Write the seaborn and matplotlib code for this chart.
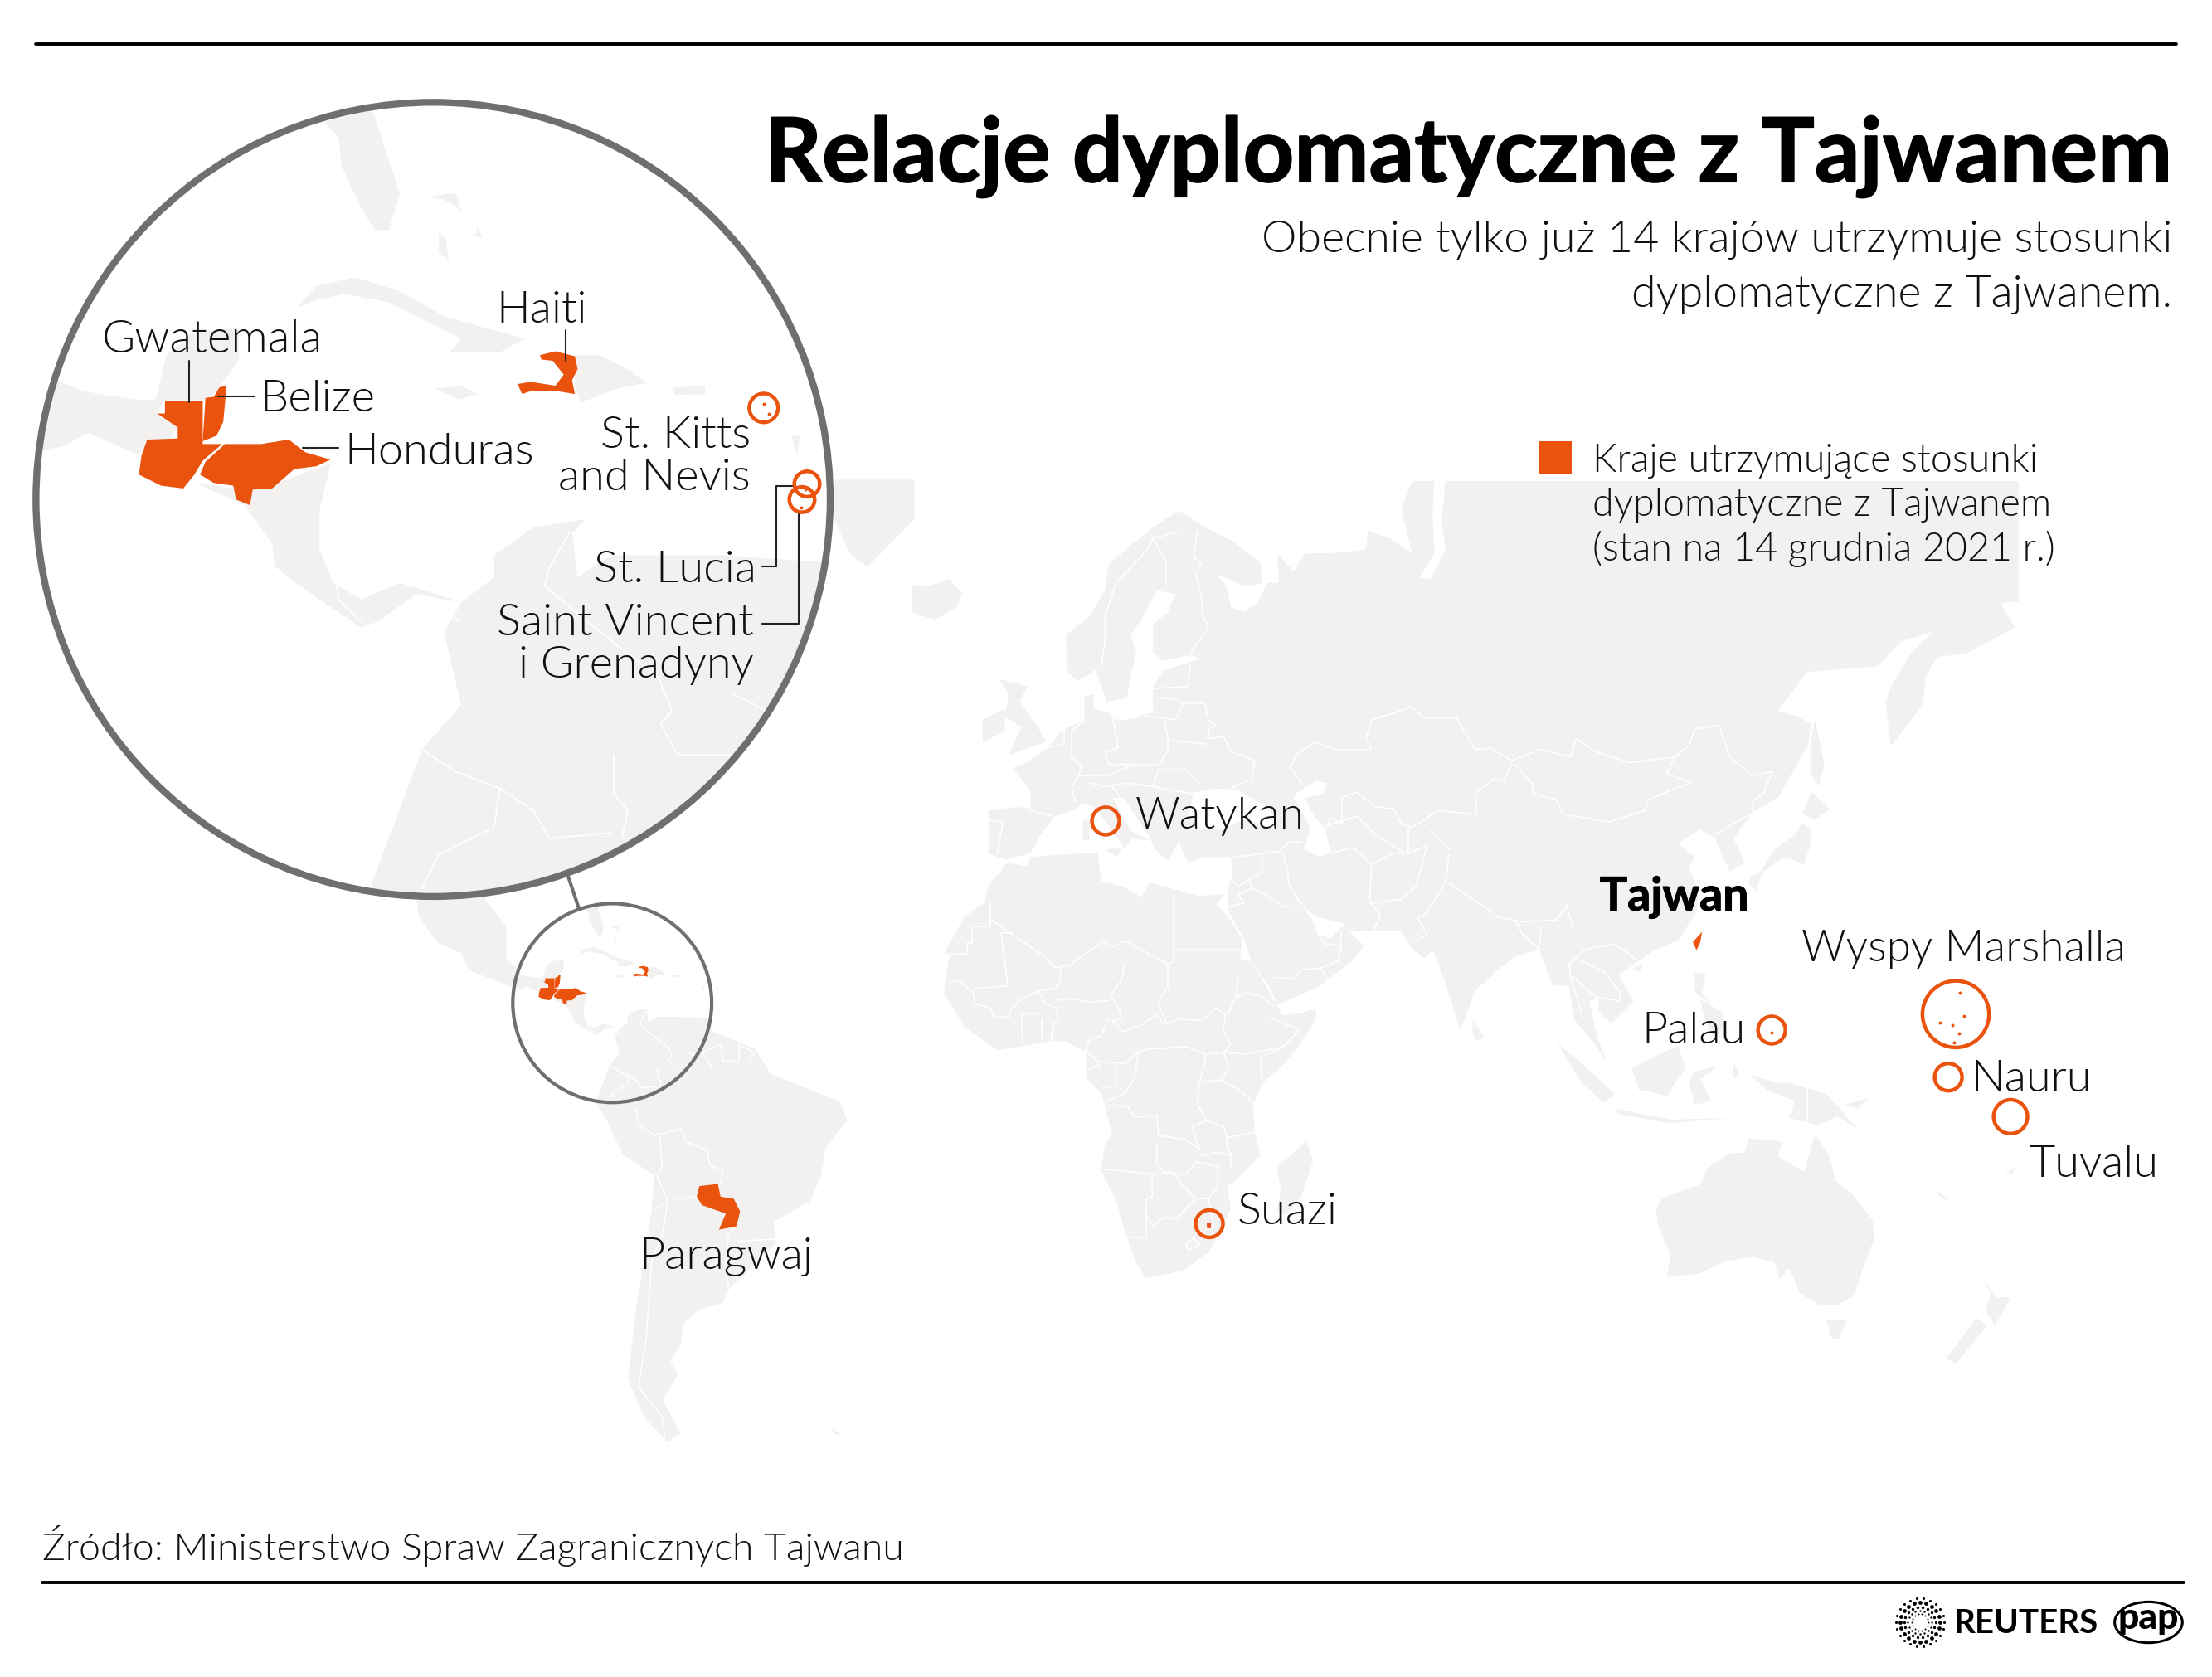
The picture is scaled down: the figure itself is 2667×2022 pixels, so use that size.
import numpy as np
import pandas as pd
import matplotlib
matplotlib.use('Agg')
import matplotlib.pyplot as plt
import matplotlib.patheffects as pe
from matplotlib.patches import Circle, Ellipse, Rectangle
import seaborn as sns

LAND = '#f2f1f0'
ORANGE = '#e9530e'
RING = '#6f6e70'
INK = '#111111'
S = 2667 / 1568

def crop(x0, y0, sx, sy=None):
    sy = sy or sx
    return lambda p: [((x0 + x / sx) / S, (y0 + y / sy) / S) for x, y in p]
z1 = crop(0, 80, 1.4933)
z3 = crop(400, 1050, 1.568, 1.96)
za = crop(1100, 560, 2.24)
zb = crop(1800, 560, 2.24)
zc = crop(1800, 1100, 2.24)
zd = crop(1100, 1050, 2.24)

eurasia = (za([(250,1068),(205,1050),(208,950),(205,935),(280,925),(320,930),(320,880),(270,820),(300,810),(360,770),(410,715),(465,690),(465,625),(490,620),(490,660),(535,670),(525,640),(495,555),(445,585),(420,560),(415,460),(480,410),(520,340),(530,270),(600,210),(650,170),(720,125),(800,175),(860,205),(940,265),(945,320),(900,330),(820,295),(850,330),(860,385),(895,400),(930,375),(960,320),(990,320),(985,240),(1030,290),(1060,240),(1130,240),(1225,230),(1230,180),(1290,200),(1350,240),(1320,120),(1350,45)])
    + zb([(1420,45),(1420,370),(1370,375),(1410,440),(1280,510),(1200,520),(1170,570),(1160,650),(1075,760),(1060,640),(1080,590),(1130,510),(1190,450),(1100,480),(1040,545),(850,560),(770,665),(820,680),(860,700),(850,760),(770,900),(700,940),(650,1010),(680,1075),(640,1100),(600,1010),(560,985),(500,1025),(545,1060),(530,1090),(555,1150),(550,1210)])
    + zc([(500,75),(440,100),(395,130),(340,170),(380,240),(320,300),(285,270),(285,230),(260,240),(280,330),(305,400),(270,350),(220,290),(205,200),(160,195),(125,100),(60,120),(0,165)])
    + za([(1568,1380),(1520,1420),(1480,1530),(1440,1400),(1405,1310),(1385,1335),(1350,1310),(1320,1260),(1180,1260),(1165,1240),(1090,1220),(1050,1190),(1080,1230),(1095,1270),(1130,1280),(1165,1245),(1220,1300),(1190,1340),(1150,1370),(1100,1410),(985,1460),(970,1420),(915,1340),(900,1290),(855,1210),(850,1150),(865,1100),(860,1060),(790,1060),(745,1075),(720,1020),(690,1070),(655,1040),(640,1005),(610,960),(570,900),(540,900),(590,990),(640,1015),(590,1010),(575,1040),(530,975),(490,925),(465,915),(430,935),(385,950),(340,1010),(320,1050)]))
africa = (za([(255,1075),(310,1085),(320,1060),(460,1050),(500,1050),(510,1125),(570,1140),(620,1170),(640,1130),(700,1145),(770,1165),(845,1160),(820,1190),(848,1215),(890,1280)])
    + zd([(885,240),(915,245),(960,320),(985,365),(1000,390),(1045,385),(1090,372),(1090,400),(1040,480),(1000,525),(950,570),(920,630),(925,700),(940,770),(890,820),(850,855),(860,910),(840,960),(800,1030),(730,1080),(630,1100),(605,1060),(580,990),(550,890),(510,810),(520,740),(540,710),(510,600),(470,560),(470,490),(415,460),(370,460),(230,485),(140,420),(85,330),(100,230),(85,225),(110,180),(140,125),(195,85),(205,40),(240,0)]))
south_america = z3([(500,550),(500,490),(535,400),(520,360),(590,300),(680,330),(720,380),(800,420),(830,480),(960,545),(975,590),(935,650),(925,720),(905,780),(835,830),(840,880),(750,990),(740,1020),(690,1040),(665,1070),(660,1120),(640,1160),(655,1190),(625,1250),(660,1330),(635,1350),(590,1290),(560,1200),(575,1040),(605,800),(610,720),(550,670),(520,590)])
mexico = z3([(150,-40),(290,-40),(290,70),(330,130),(330,210),(360,240),(350,280),(260,235),(245,195),(200,170),(165,110)])
greenland = [(592,340),(648,340),(648,368),(615,402),(602,392),(590,365)]
islands = [
    zd([(985,800),(1065,730),(1082,785),(1050,880),(1010,930),(985,920),(995,860)]),
    zd([(1515,405),(1545,450),(1520,460),(1512,430)]),
    za([(190,690),(250,660),(250,720),(190,750)]),
    za([(235,580),(310,600),(290,640),(340,710),(360,750),(260,785),(295,710),(250,680),(260,620)]),
    za([(0,325),(40,330),(100,310),(135,350),(120,385),(60,420),(0,400)]),
    za([(460,960),(480,960),(478,1015),(460,1015)]),
    za([(520,1040),(565,1035),(555,1060)]),
    zb([(860,885),(910,930),(870,960),(835,945)]),
    zb([(835,970),(860,985),(860,1020),(840,1080),(790,1060),(720,1105),(760,1040),(815,1000)]),
    zb([(700,1110),(730,1100),(710,1150),(690,1130)]),
    zb([(870,690),(895,810),(880,870),(860,840),(860,740)]),
    zc([(175,355),(230,400),(330,490),(300,515),(240,460)]),
    zc([(330,530),(480,560),(640,555),(480,570),(340,545)]),
    zc([(375,420),(500,360),(520,420),(470,495),(395,480)]),
    zc([(545,430),(610,415),(560,450),(590,510),(545,520),(530,460)]),
    zc([(545,165),(575,165),(565,220),(590,250),(545,215)]),
    zc([(560,235),(620,270),(625,310),(600,340),(575,300)]),
    zc([(375,155),(405,135),(400,160)]),
    zc([(695,440),(770,460),(800,460),(900,490),(990,590),(930,550),(880,575),(800,555),(815,510),(740,480)]),
    zc([(950,520),(1020,500),(985,530)]),
    zc([(650,405),(665,440),(650,450)]),
    zc([(1190,745),(1230,775),(1215,775)]),
    zc([(1385,705),(1415,685),(1400,710)]),
    zc([(440,800),(460,770),(560,735),(580,690),(640,650),(680,650),(690,610),(780,620),(770,660),(840,700),(870,600),(910,660),(925,725),(970,760),(1025,830),(1030,880),(1000,960),(975,1035),(930,1060),(880,1060),(830,1030),(800,960),(775,990),(760,945),(700,930),(620,945),(560,975),(470,985),(480,925),(460,880),(445,840)]),
    zc([(900,1100),(955,1100),(935,1155),(915,1150)]),
    zc([(1320,985),(1360,1040),(1400,1040),(1355,1115),(1330,1075),(1345,1030)]),
    zc([(1305,1095),(1335,1115),(1250,1220),(1225,1205)]),
    z3([(945,1318),(965,1335),(950,1330)]),
]
# seas cut out of the land
seas = [
    za([(660,340),(710,350),(690,400),(650,430),(650,510),(680,530),(750,515),(780,525),(680,555),(650,600),(650,670),(570,690),(540,685),(525,660),(530,640),(580,630),(590,570),(605,510),(590,460),(625,410)]),
    za([(760,885),(830,875),(880,880),(950,920),(985,960),(980,985),(900,960),(830,985),(780,985),(745,950)]),
    za([(1040,885),(1090,855),(1120,860),(1110,890),(1060,900),(1085,950),(1115,985),(1130,1050),(1100,1060),(1060,1040),(1075,980),(1030,900)]),
    za([(1110,45),(1160,45),(1175,140),(1130,135),(1100,90)]),
    za([(1410,45),(1440,45),(1430,150),(1440,230),(1400,310),(1370,305),(1410,240),(1405,130)]),
]

sa_borders = [z3(p) for p in [
    [(575,560),(580,600),(610,625),(660,610),(670,640),(710,660),(715,695),(740,710),(735,740)],
    [(620,630),(625,700),(615,720),(635,780),(610,800)],
    [(635,785),(625,860),(605,920),(600,1000),(595,1100),(580,1220),(625,1290),(630,1340)],
    [(650,775),(690,770)],[(770,830),(750,860),(745,930),(750,985)],[(840,870),(770,875)],
    [(720,465),(700,430),(735,410),(740,450),(770,450),(770,410),(800,430),(790,450)]]]
africa_borders = [zd(p) for p in [
    [(90,225),(148,225),(148,195),(162,195),(162,150),(210,150),(210,90)],
    [(210,130),(355,230),(385,262),(425,255),(515,190),(545,205),(575,190),(690,252),(706,245),(706,65)],
    [(240,168),(268,168)],[(240,168),(258,310),(165,318)],
    [(100,300),(130,298),(165,330),(170,360),(210,370),(220,395)],
    [(400,262),(400,300),(385,318),(340,325),(290,350),(265,375),(262,395),(225,395)],
    [(340,325),(360,360),(390,370),(395,400),(380,420),(380,455)],
    [(395,350),(430,345),(480,355),(530,350)],
    [(575,245),(565,295),(535,335),(560,375),(565,400),(540,405),(570,435)],
    [(470,475),(480,455),(510,445),(530,400)],
    [(465,480),(500,515),(575,520),(610,490),(640,480),(670,480),(740,475),(790,495),(840,490),(900,495),(1000,475),(1045,430),(965,395)],
    [(570,435),(620,415),(660,390),(680,415),(720,400),(780,405),(820,370),(845,390),(840,430),(860,470),(840,490)],
    [(690,252),(690,315),(665,350),(675,385),(690,415)],[(706,213),(885,213)],
    [(880,290),(875,340),(850,390)],[(875,340),(900,330),(945,340),(975,365)],
    [(790,495),(790,520),(775,570),(835,565),(890,597),(915,620)],[(835,565),(855,530),(840,490)],
    [(945,570),(940,505),(1000,475)],[(775,570),(770,630),(795,675),(840,690),(850,720),(935,705)],
    [(520,635),(580,635),(600,665),(660,660),(665,715),(735,725),(775,750)],[(795,675),(755,690),(775,750)],
    [(660,740),(660,790),(680,815),(735,820),(770,785),(825,800),(825,850),(800,885)],
    [(510,805),(610,815),(650,820),(705,815),(730,850),(765,885),(800,885)],
    [(648,820),(648,880),(632,885),(632,990),(590,990)],[(632,930),(650,960),(680,935),(715,940),(740,910),(765,885)],
    [(780,770),(825,760),(860,770),(860,805)],[(850,720),(850,750),(865,770)],
    [(610,490),(600,560),(575,600),(520,625)],[(480,535),(505,520),(505,535)],[(550,525),(550,580),(515,585)],
    [(740,1010),(760,990),(775,1010),(745,1025),(740,1010)],[(800,885),(815,960)],
    [(295,385),(295,430),(300,470)],[(295,385),(350,385)],[(350,400),(350,455)],[(380,410),(375,460)]]]
eurasia_borders = [za(p) for p in [
    [(650,200),(685,260),(685,320)],[(630,235),(550,320),(520,410),(520,480),(510,550)],[(650,200),(630,235)],
    [(720,180),(650,200)],[(770,180),(760,250),(780,270),(765,295),(780,350),(785,410),(800,440),(750,510)],
    [(750,540),(745,600),(650,605)],[(650,630),(720,635),(730,650),(710,690),(680,685)],
    [(730,645),(790,645),(800,690),(820,705),(800,715),(800,740),(840,735),(860,775),(925,800),(915,850),(850,880)],
    [(540,680),(550,730),(555,765),(520,780),(530,810),(600,810),(665,810),(690,775),(690,740),(680,685),(630,680),(550,690)],
    [(690,745),(790,755)],[(670,825),(740,825),(775,860)],[(665,825),(650,870)],
    [(465,690),(430,720),(430,790),(455,815),(450,840),(430,870),(440,910)],[(410,715),(410,755),(370,765)],
    [(450,840),(530,840),(585,815)],[(480,860),(520,870),(580,860),(650,870),(760,890)],[(540,870),(575,920),(620,985),(640,1005)],
    [(205,960),(245,965),(230,1050)],[(320,935),(380,950)],
    [(1020,820),(1040,780),(1090,750),(1140,770),(1240,770),(1225,740),(1240,690),(1350,655),(1380,685),(1470,685),(1520,770),(1568,765)],
    [(1020,820),(1060,870)],[(1160,900),(1200,885),(1250,925),(1300,930),(1320,970),(1350,980),(1420,935),(1525,945),(1520,890),(1568,850)],
    [(1160,900),(1160,970),(1130,955),(1115,985)],[(1130,1050),(1190,1035),(1240,1080),(1300,1050),(1340,1050),(1390,1030),(1360,1140),(1320,1175),(1240,1185)],
    [(1120,975),(1200,950),(1250,1000),(1330,1050)],[(1340,980),(1340,1050)],[(1400,990),(1450,1040)],
    [(1240,1085),(1235,1180),(1265,1220),(1245,1260)],[(1000,1050),(1015,1100),(1015,1130),(1045,1180),(1060,1190)],
    [(870,1060),(990,1045),(1020,1020),(1050,1020)],[(945,1060),(945,1100),(880,1140),(860,1120)],
    [(910,1120),(915,1145),(880,1160),(895,1185),(850,1195)],[(915,1145),(960,1165),(1000,1195),(1045,1195)],
    [(1095,1270),(1115,1295),(1155,1300),(1160,1260)],[(975,1385),(1030,1390),(1050,1365),(1105,1360),(1150,1340),(1160,1300)],
    [(1105,1360),(1120,1395)],[(1450,1050),(1440,1130),(1385,1215),(1365,1225),(1390,1270),(1350,1290)],
    [(1450,1130),(1500,1165),(1568,1210)]]]
asia_borders = [zb(p) for p in [
    [(0,770),(50,800),(130,770),(210,790),(225,740),(275,775),(370,805),(490,790),(470,835),(535,860),(480,880),(420,905),(410,935),(315,965),(190,945),(170,905),(110,890),(105,860),(60,810)],
    [(490,790),(530,760),(545,715),(610,705),(640,790),(700,840),(755,830),(730,890),(705,905),(700,935)],
    [(705,940),(640,975),(600,1000)],[(0,850),(30,855),(50,805)],[(0,1220),(80,1235),(170,1230),(200,1190),(215,1250)]]] + [zc(p) for p in [
    [(205,140),(250,100),(330,85),(390,130)],[(240,130),(300,160),(340,210),(345,240),(285,230)],
    [(280,230),(215,175)],[(205,140),(210,175),(240,270)],[(60,20),(80,60),(125,100),(130,40)],
    [(848,475),(848,570)]]]

# the enlarged Caribbean, in crop coordinates of the big circle
carib_land = [z1(p) for p in [
    [(585,100),(670,78),(720,230),(700,295),(675,295),(650,255),(615,180),(610,130)],
    [(535,435),(570,395),(640,380),(720,405),(800,450),(870,470),(945,490),(900,515),(810,515),(830,490),(780,465),(700,425),(620,410),(570,420)],
    [(785,580),(830,575),(860,590),(825,600)],
    [(1035,520),(1080,520),(1130,545),(1165,570),(1110,580),(1060,600),(1045,605),(1035,575)],
    [(1210,578),(1270,575),(1270,590),(1215,592)],
    [(790,300),(803,310),(808,350),(790,335)],[(770,235),(820,228),(830,260),(800,240)],
    [(1425,665),(1440,665),(1435,700)],[(860,290),(868,310),(855,305)],
    [(20,560),(100,565),(150,585),(240,600),(295,600),(283,625),(320,650),(305,670),(265,672),(250,700),(160,660),(110,685),(20,700)],
    [(280,600),(300,520),(345,480),(430,470),(430,530),(385,590),(370,600)],
    [(350,750),(440,790),(490,860),(495,900),(520,920),(575,960),(650,1010),(680,1000),(750,950),(800,960),(830,965),(890,920),(890,880),(960,830),(1055,815),(1030,840),(1040,920),(1100,880),(1300,880),(1440,890),(1600,900),(1600,1600),(650,1600),(670,1470),(760,1230),(830,1150),(800,1020),(830,965),(770,945),(720,930),(650,960),(600,930),(575,870),(575,800),(595,715),(500,750),(420,760)],
]]
carib_borders = [z1(p) for p in [
    [(1025,840),(990,900),(980,935),(1070,1010),(1185,1100),(1210,1160),(1190,1185),(1220,1240),(1320,1240)],
    [(760,1230),(820,1270),(900,1300),(960,1340),(990,1390),(1100,1380)],
    [(900,1300),(890,1370),(790,1420),(760,1480)],[(1105,1240),(1105,1310),(1130,1340),(1120,1390)],
    [(605,925),(610,960),(650,1000)],[(800,960),(825,1000)],[(1320,1130),(1380,1160)]]]
guatemala = z1([(297,602),(365,602),(365,680),(400,680),(365,710),(350,735),(330,760),(290,755),(250,735),(255,700),(265,672),(320,670),(320,650),(283,625),(297,625)])
belize = z1([(370,597),(385,595),(395,578),(408,575),(402,640),(390,665),(365,675)])
honduras = z1([(360,735),(370,712),(405,680),(470,680),(520,672),(550,695),(595,708),(570,720),(530,725),(490,760),(455,762),(450,790),(425,780),(420,755),(385,750)])
haiti = z1([(972,520),(1000,513),(1035,522),(1040,545),(1030,565),(1035,590),(1005,585),(955,585),(940,590),(932,572),(955,568),(1000,575),(1015,555),(995,530),(975,528)])
carib_orange = [guatemala, belize, honduras, haiti]

paraguay = z3([(695,745),(730,740),(735,770),(760,775),(772,805),(765,840),(732,848),(745,810),(700,790),(690,770)])
taiwan = zb([(540,1290),(565,1262),(560,1290),(550,1312)])
swaziland = zd([(795,950),(807,950),(806,965),(796,965)])

ring_centres = za([(522,963)]) + zd([(802,953)]) + zc([(753,318),(1250,275),(1230,445),(1398,552)]) + z1([(1375,615),(1453,752),(1444,780)])
ring_r = [9.7, 9.7, 9.7, 23.6, 9.7, 12, 10.2, 9, 9]
dots = zc([(1262,218),(1272,280),(1208,298),(1240,305),(1258,328),(1246,352),(752,325)]) + z1([(1385,625),(1375,608),(1450,762),(1443,795)])

labels = ['Gwatemala', 'Belize', 'Honduras', 'Haiti', 'St. Kitts', 'and Nevis', 'St. Lucia', 'Saint Vincent', 'i Grenadyny',
          'Watykan', 'Wyspy Marshalla', 'Palau', 'Nauru', 'Tuvalu', 'Suazi', 'Paragwaj']
label_x = [72, 184, 244, 352, 532, 532, 536, 534, 534, 805, 1277, 1164, 1397, 1438, 877, 453]
label_y = [241, 283, 321, 220, 309, 339, 404, 442, 472, 579, 673, 731, 765, 826, 859, 891]
label_ha = ['left', 'left', 'left', 'left', 'right', 'right', 'right', 'right', 'right',
            'left', 'left', 'left', 'left', 'left', 'left', 'left']
label_size = [39.5, 39, 39, 39, 39, 39, 39, 39, 39, 38, 38, 39, 39, 39, 39, 39]
callouts = [z1(p) for p in [[(1019,475),(1019,530)],[(341,530),(341,605)],[(392,594),(458,594)],[(545,687),(610,687)],
            [(1372,901),(1398,901),(1398,755),(1430,755)],[(1372,1004),(1438,1004),(1438,800)]]]

title = 'Relacje dyplomatyczne z Tajwanem'
subtitle = ['Obecnie tylko już 14 krajów utrzymuje stosunki', 'dyplomatyczne z Tajwanem.']
legend_lines = ['Kraje utrzymujące stosunki', 'dyplomatyczne z Tajwanem', '(stan na 14 grudnia 2021 r.)']
source = 'Źródło: Ministerstwo Spraw Zagranicznych Tajwanu'

sns.set_theme(style='white')
plt.rcParams['font.family'] = ['Lato', 'DejaVu Sans']

fig = plt.figure(figsize=(26.67, 20.22), dpi=100)
ax = fig.add_axes([0, 0, 1, 1])
W, H = 1568, 2022 / S

big_c, big_r = (307, 354), 281.5
small_c, small_r = (434, 711), 70.5
zoom = big_r / small_r

def shrink(pts):
    return [(small_c[0] + (x - big_c[0]) / zoom, small_c[1] + (y - big_c[1]) / zoom) for x, y in pts]

def fill(pts, color, clip=None, z=2):
    p = ax.fill(*zip(*pts), color=color, lw=0, zorder=z)[0]
    if clip is not None:
        p.set_clip_path(clip)

def line(pts, color='white', lw=1.2, clip=None, z=3):
    l = ax.plot(*zip(*pts), color=color, lw=lw, zorder=z, solid_joinstyle='round')[0]
    if clip is not None:
        l.set_clip_path(clip)

for shape in [eurasia, africa, south_america, mexico, greenland] + islands:
    fill(shape, LAND)
for shape in seas:
    fill(shape, 'white')
for b in sa_borders + africa_borders + eurasia_borders + asia_borders:
    line(b)
fill(paraguay, ORANGE, z=4)
fill(taiwan, ORANGE, z=4)
fill(swaziland, ORANGE, z=18)

# small circle
small = Circle(small_c, small_r, fc='white', lw=0, zorder=5)
ax.add_patch(small)
for shape in carib_land:
    fill(shrink(shape), LAND, small, 6)
for b in carib_borders:
    line(shrink(b), lw=1, clip=small, z=7)
for shape in carib_orange:
    fill(shrink(shape), ORANGE, small, 8)
ax.add_patch(Circle(small_c, small_r, fc='none', ec=RING, lw=3, zorder=9))

# big circle
ax.plot([403, 411], [622, 646], color=RING, lw=3, zorder=4.5)
big = Circle(big_c, big_r, fc='white', lw=0, zorder=10)
ax.add_patch(big)
for shape in carib_land:
    fill(shape, LAND, big, 11)
for b in carib_borders:
    line(b, lw=1.3, clip=big, z=12)
for shape in carib_orange:
    fill(shape, ORANGE, big, 13)
ax.add_patch(Circle(big_c, big_r, fc='none', ec=RING, lw=6, zorder=15))
for c in callouts:
    line(c, color='#222222', lw=1.5, z=16)

# marker area in points^2 from a radius in picture units
px_pt = S * 72 / 100
rings = pd.DataFrame(ring_centres, columns=['x', 'y'])
rings['s'] = (2 * np.array(ring_r) * px_pt) ** 2
sns.scatterplot(data=rings, x='x', y='y', s=rings['s'].values, facecolor='none', edgecolor=ORANGE, linewidth=3.2, ax=ax, zorder=17, legend=False)
dot_df = pd.DataFrame(dots, columns=['x', 'y'])
sns.scatterplot(data=dot_df, x='x', y='y', s=8, color=ORANGE, linewidth=0, ax=ax, zorder=17, legend=False)

ax.set_xlim(0, W)
ax.set_ylim(H, 0)
ax.axis('off')

for name, x, y, ha, size in zip(labels, label_x, label_y, label_ha, label_size):
    ax.text(x, y, name, ha=ha, va='center', fontsize=size, fontweight=300, color=INK, zorder=20)
ax.text(1134, 636, 'Tajwan', ha='left', va='center', fontsize=40, fontweight='bold', color='black', zorder=20,
        path_effects=[pe.withStroke(linewidth=0.8, foreground='black')])

ax.text(1540, 111, title, ha='right', va='center', fontsize=77.5, fontweight='bold', color='black', zorder=20,
        path_effects=[pe.withStroke(linewidth=1.2, foreground='black')])
for i, s in enumerate(subtitle):
    ax.text(1540, [170, 209][i], s, ha='right', va='center', fontsize=38.7, fontweight=300, color=INK, zorder=20)

ax.add_patch(Rectangle((1091, 313), 23, 23, fc=ORANGE, lw=0, zorder=20))
for i, s in enumerate(legend_lines):
    ax.text(1129, [327, 358, 389][i], s, ha='left', va='center', fontsize=33.5, fontweight=300, color=INK, zorder=20)

ax.plot([25, 1543], [31, 31], color='black', lw=2.8, zorder=20)
ax.plot([30, 1548], [1122, 1122], color='black', lw=2.8, zorder=20)
ax.text(30, 1096, source, ha='left', va='center', fontsize=33.4, fontweight=300, color=INK, zorder=20)

# logos
for rad, size, count in [(6, 2, 14), (8.5, 3, 16), (11, 6, 18), (14, 12, 20), (17, 5, 22)]:
    ang = np.linspace(0, 2 * np.pi, count, endpoint=False)
    ax.scatter(1361 + rad * np.cos(ang), 1150 + rad * np.sin(ang), s=size, color='black', lw=0, zorder=20)
ax.text(1385, 1151, 'REUTERS', ha='left', va='center', fontsize=29, fontweight='bold', color='black', zorder=20)
ax.add_patch(Ellipse((1523, 1150), 48, 29, fc='white', ec='black', lw=2.2, zorder=20))
ax.text(1523, 1147, 'pap', ha='center', va='center', fontsize=32, fontweight=900, color='black', zorder=21)

fig.savefig('out.png', dpi=100)
